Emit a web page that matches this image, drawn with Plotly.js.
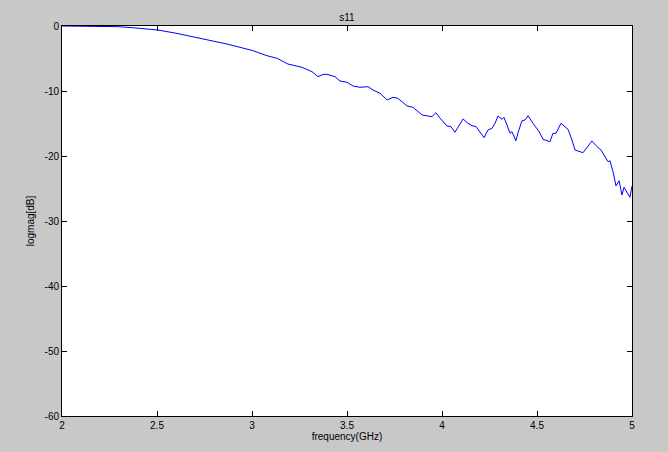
<!DOCTYPE html>
<html><head><meta charset="utf-8">
<script src="https://cdn.plot.ly/plotly-3.0.1.min.js"></script>
<style>html,body{margin:0;padding:0;background:#c8c8c8;}#chart{width:668px;height:452px;}</style>
</head><body><div id="chart"></div>
<script>
const frequency = [2.000,2.095,2.200,2.289,2.358,2.437,2.500,2.595,2.689,2.779,2.868,2.937,3.005,3.079,3.132,3.189,3.263,3.316,3.347,3.374,3.395,3.437,3.463,3.500,3.532,3.568,3.611,3.637,3.674,3.711,3.742,3.768,3.816,3.847,3.895,3.947,3.968,3.989,4.026,4.047,4.068,4.084,4.111,4.137,4.158,4.179,4.200,4.221,4.242,4.263,4.279,4.295,4.316,4.326,4.342,4.358,4.368,4.389,4.400,4.421,4.437,4.453,4.479,4.511,4.532,4.558,4.568,4.584,4.600,4.626,4.647,4.663,4.684,4.700,4.742,4.789,4.816,4.837,4.874,4.884,4.900,4.916,4.932,4.947,4.958,4.974,4.989,5.000];
const s11 = [0,0,-0.03,-0.1,-0.23,-0.38,-0.6,-1.08,-1.65,-2.15,-2.77,-3.28,-3.8,-4.57,-4.97,-5.85,-6.35,-7.03,-7.8,-7.46,-7.43,-7.8,-8.46,-8.66,-9.23,-9.43,-9.34,-9.85,-10.35,-11.38,-10.97,-11.12,-12.31,-12.51,-13.69,-13.95,-13.34,-14.15,-15.38,-15.49,-16.35,-15.58,-14.31,-14.97,-15.34,-15.46,-16.26,-17.18,-16.0,-15.74,-14.97,-13.85,-14.35,-14.05,-15.23,-16.51,-16.26,-17.65,-16.42,-14.57,-14.46,-13.8,-14.97,-16.26,-17.43,-17.65,-17.8,-16.51,-16.51,-14.97,-15.58,-15.89,-17.54,-19.08,-19.49,-17.69,-18.57,-19.08,-20.88,-20.72,-22.42,-24.62,-23.8,-26.0,-24.82,-25.54,-26.35,-24.62];
const xTicks = [2,2.5,3,3.5,4,4.5,5];
const xTickLabels = ["2","2.5","3","3.5","4","4.5","5"];
const yTicks = [0,-10,-20,-30,-40,-50,-60];
const yTickLabels = ["0","-10","-20","-30","-40","-50","-60"];

const font = {family:"Liberation Sans, Arial, sans-serif", size:10, color:"#000"};
const axisCommon = {showgrid:false, zeroline:false, showline:true, linecolor:"#000", linewidth:1, mirror:"ticks", ticks:"inside", ticklen:5, tickcolor:"#000", tickfont:font};

Plotly.newPlot("chart", [{
  x: frequency, y: s11, type:"scatter", mode:"lines",
  line:{color:"#0000ff", width:1}
}], {
  width:668, height:452,
  paper_bgcolor:"#c8c8c8", plot_bgcolor:"#ffffff",
  margin:{l:62, r:36, t:26, b:36},
  showlegend:false,
  title:{text:"s11", font:{family:font.family, size:10, color:"#000"}, x:0.5, xref:"paper", y:1, yref:"paper", yanchor:"bottom", pad:{b:5}},
  xaxis: Object.assign({}, axisCommon, {range:[2,5], tickvals:xTicks, ticktext:xTickLabels,
    title:{text:"frequency(GHz)", font:font, standoff:2}}),
  yaxis: Object.assign({}, axisCommon, {range:[-60,0], tickvals:yTicks, ticktext:yTickLabels,
    title:{text:"logmag[dB]", font:font, standoff:8}})
}, {displayModeBar:false, staticPlot:true});
</script></body></html>
